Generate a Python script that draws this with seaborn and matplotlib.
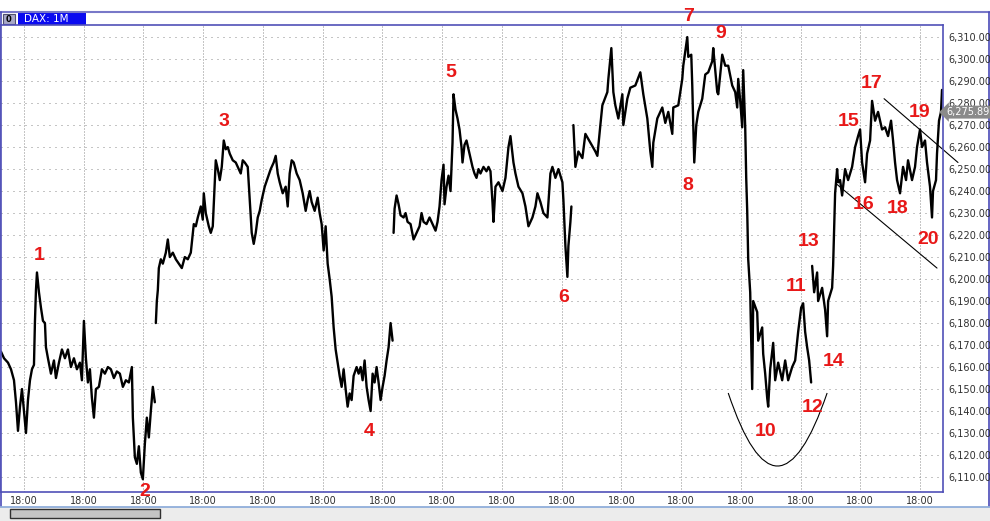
import pandas as pd
import matplotlib
matplotlib.use("Agg")
import matplotlib.pyplot as plt
from matplotlib.patches import Rectangle, PathPatch
from matplotlib.path import Path
import seaborn as sns

# intraday DAX 1-minute closes (bar position, price)
bars_1 = [0, 3, 7, 10, 13, 15, 17, 19, 21, 23, 25, 27, 29, 31, 33, 34, 35, 36, 38, 40,
          42, 44, 45, 47, 50, 53, 55, 58, 61, 64, 67, 70, 73, 76, 79, 81, 83, 85, 87, 89,
          91, 93, 95, 98, 101, 104, 107, 110, 113, 116, 119, 122, 125, 128, 131, 132, 134,
          136, 138, 140, 142, 144, 146, 148, 150, 152, 154]
prices_1 = [6167, 6164, 6162, 6159, 6154, 6144, 6131, 6142, 6150, 6140, 6130, 6145, 6154,
            6159, 6161, 6181, 6195, 6203, 6194, 6187, 6181, 6180, 6169, 6164, 6157, 6163,
            6155, 6162, 6168, 6164, 6168, 6160, 6164, 6159, 6162, 6154, 6181, 6164, 6153,
            6159, 6146, 6137, 6150, 6151, 6159, 6157, 6160, 6159, 6155, 6158, 6157, 6151,
            6154, 6153, 6160, 6137, 6119, 6116, 6124, 6112, 6109, 6125, 6137, 6128, 6140,
            6151, 6144]

bars_2 = [155, 156, 157, 158, 160, 162, 165, 167, 169, 172, 175, 178, 181, 184, 187, 190,
          193, 195, 197, 200, 202, 203, 205, 208, 210, 212, 214, 215, 217, 219, 221, 223,
          225, 227, 229, 232, 235, 238, 240, 242, 244, 247, 249, 251, 253, 255, 257, 259,
          261, 264, 267, 270, 273, 275, 277, 279, 282, 285, 287, 289, 291, 293, 296, 299,
          302, 305, 307, 309, 311, 314, 317, 319, 321, 323, 325, 327, 329, 331, 333, 335,
          337, 339, 341, 343, 345, 347, 349, 351, 353, 356, 358, 360, 362, 364, 366, 368,
          370, 372, 374, 376, 378, 380, 382, 384, 386, 388, 390, 392]
prices_2 = [6180, 6190, 6195, 6205, 6209, 6207, 6212, 6218, 6210, 6212, 6209, 6207, 6205,
            6210, 6209, 6212, 6225, 6224, 6228, 6233, 6227, 6239, 6230, 6224, 6221, 6224,
            6244, 6254, 6250, 6245, 6251, 6263, 6259, 6260, 6257, 6254, 6253, 6250, 6248,
            6254, 6253, 6251, 6236, 6221, 6216, 6221, 6228, 6231, 6236, 6242, 6246, 6250,
            6253, 6256, 6248, 6244, 6239, 6242, 6233, 6248, 6254, 6253, 6248, 6245, 6239,
            6231, 6236, 6240, 6235, 6231, 6237, 6230, 6225, 6213, 6224, 6207, 6200, 6192,
            6178, 6168, 6162, 6156, 6151, 6159, 6150, 6142, 6148, 6145, 6156, 6160, 6157,
            6160, 6154, 6163, 6151, 6145, 6140, 6157, 6153, 6160, 6153, 6145, 6151, 6156,
            6163, 6169, 6180, 6172]

bars_3 = [393, 394, 396, 398, 400, 403, 405, 407, 410, 413, 416, 419, 421, 423, 426, 429,
          432, 435, 437, 439, 441, 443, 444, 446, 448, 450, 452, 453, 455, 457, 459, 461,
          462, 464, 466, 468, 470, 472, 474, 476, 478, 480, 483, 486, 488, 490, 492, 493,
          495, 498, 502, 505, 508, 510, 513, 515, 518, 522, 525, 528, 532, 535, 537, 540,
          543, 547, 550, 552, 555, 558, 562, 563, 565, 567, 568, 570, 571]
prices_3 = [6221, 6232, 6238, 6234, 6229, 6228, 6230, 6226, 6225, 6218, 6221, 6224, 6230,
            6226, 6225, 6228, 6225, 6222, 6226, 6233, 6245, 6252, 6234, 6242, 6247, 6240,
            6262, 6284, 6277, 6273, 6268, 6260, 6253, 6261, 6263, 6259, 6255, 6251, 6248,
            6246, 6250, 6248, 6251, 6249, 6251, 6249, 6235, 6226, 6242, 6244, 6240, 6246,
            6260, 6265, 6253, 6248, 6242, 6239, 6233, 6224, 6228, 6233, 6239, 6235, 6230,
            6228, 6248, 6251, 6246, 6250, 6244, 6236, 6215, 6201, 6215, 6226, 6233]

bars_4 = [573, 575, 578, 582, 585, 590, 595, 597, 600, 602, 607, 608, 611, 613, 615, 618,
          622, 623, 627, 630, 635, 640, 643, 647, 650, 652, 653, 657, 662, 665, 668, 672,
          673, 678, 682, 683, 687, 688, 691, 692, 693, 694, 696, 698, 702, 705, 708, 712,
          713, 717, 718, 722, 725, 728, 732, 735, 737, 738, 740, 742, 743, 745, 746, 747,
          748, 750, 752, 753, 757, 758, 762, 763, 765, 767, 768, 770, 773, 775, 778, 782,
          785, 788, 792, 795, 798, 801, 803, 805, 807, 809, 811]
prices_4 = [6270, 6251, 6258, 6255, 6266, 6262, 6258, 6256, 6270, 6279, 6285, 6291, 6305,
            6285, 6279, 6273, 6284, 6270, 6282, 6287, 6288, 6294, 6284, 6273, 6258, 6251,
            6262, 6273, 6278, 6271, 6276, 6266, 6278, 6279, 6291, 6297, 6310, 6301, 6302,
            6288, 6270, 6253, 6270, 6276, 6282, 6293, 6294, 6299, 6305, 6285, 6284, 6302,
            6297, 6297, 6288, 6285, 6278, 6291, 6281, 6269, 6295, 6269, 6246, 6231, 6209,
            6194, 6150, 6190, 6185, 6172, 6178, 6166, 6157, 6146, 6142, 6159, 6171, 6154,
            6162, 6154, 6163, 6154, 6160, 6163, 6176, 6187, 6189, 6176, 6169, 6163, 6153]

bars_5 = [812, 814, 817, 818, 822, 825, 827, 828, 832, 833, 835, 837, 838, 840, 842, 845,
          848, 852, 855, 858, 860, 862, 865, 867, 870, 872, 875, 878, 882, 885, 888, 891,
          893, 895, 897, 900, 903, 906, 908, 912, 915, 917, 920, 922, 925, 927, 930, 932,
          933, 936, 937, 939, 941, 942]
prices_5 = [6206, 6194, 6203, 6190, 6196, 6186, 6174, 6190, 6196, 6206, 6239, 6250, 6244,
            6245, 6238, 6250, 6245, 6251, 6260, 6265, 6268, 6253, 6244, 6257, 6263, 6281,
            6272, 6276, 6268, 6269, 6265, 6272, 6263, 6253, 6245, 6239, 6251, 6245, 6254,
            6245, 6251, 6260, 6268, 6260, 6263, 6253, 6242, 6228, 6240, 6245, 6257, 6272,
            6276, 6286]

last_price = 6275.89

# wave count labels drawn on the chart
wave_labels = [str(i) for i in range(1, 21)]
wave_bars = [38, 144, 223, 369, 450, 563, 688, 688, 721, 765,
             796, 812, 808, 834, 849, 864, 872, 898, 920, 928]
wave_prices = [6210.6, 6103.6, 6271.8, 6130.5, 6294.1, 6191.4, 6319.5, 6242.7, 6311.8, 6130.5,
               6196.4, 6141.4, 6217.3, 6162.3, 6271.8, 6234.1, 6289.1, 6232.3, 6275.9, 6218.2]

# hand-drawn trend lines and the rounded bottom under wave 10
upper_line_bars = [884, 958]
upper_line_prices = [6282, 6253]
lower_line_bars = [837, 937]
lower_line_prices = [6243, 6205]
bowl_bars = [728, 777, 827]
bowl_prices = [6148.2, 6081.8, 6148.2]

session_ticks = [23 + 59.8 * k for k in range(16)]
session_labels = ["18:00"] * 16
price_ticks = list(range(6110, 6320, 10))

frames = []
for i, (b, p) in enumerate([(bars_1, prices_1), (bars_2, prices_2), (bars_3, prices_3),
                            (bars_4, prices_4), (bars_5, prices_5)]):
    frames.append(pd.DataFrame({"bar": b, "price": p, "segment": i}))
df = pd.concat(frames, ignore_index=True)

sns.set_style("white")
plt.rcParams["font.family"] = ["DejaVu Sans"]

W, H = 990, 521
fig = plt.figure(figsize=(W / 100, H / 100), dpi=100)

# window chrome in pixel coordinates
bg = fig.add_axes([0, 0, 1, 1])
bg.set_xlim(0, W)
bg.set_ylim(H, 0)
bg.axis("off")
edge = "#7878c8"
bg.plot([0, W], [12, 12], color=edge, lw=1.5)
bg.plot([0.5, 0.5], [12, 506], color="#4a4ab8", lw=1.2)
bg.plot([988.5, 988.5], [12, 506], color="#4a4ab8", lw=1.2)
bg.add_patch(Rectangle((18, 12), 68, 13, fc="#0a0af0", ec="none"))
bg.text(24, 18.8, "DAX: 1M", color="white", fontsize=7.5, va="center", ha="left")
bg.add_patch(Rectangle((3, 14), 12, 10, fc="#a8a8c8", ec="#505070", lw=0.8))
bg.text(9, 19, "0", color="black", fontsize=6, fontweight="bold", va="center", ha="center")
bg.add_patch(Rectangle((0, 507), W, 14, fc="#ececec", ec="none"))
bg.plot([0, W], [506.5, 506.5], color="#88a8d8", lw=1.2)
bg.add_patch(Rectangle((10, 509), 150, 9, fc="#c4c4c4", ec="#303030", lw=1))

ax = fig.add_axes([1 / W, 29 / H, 942 / W, 467 / H])
ax.set_facecolor("white")

sns.lineplot(data=df, x="bar", y="price", units="segment", estimator=None, sort=False,
             color="black", linewidth=1.7, ax=ax, legend=False)

ax.set_xlim(0, 943)
ax.set_ylim(6103.2, 6315.5)
ax.set_xlabel("")
ax.set_ylabel("")

ax.set_xticks(session_ticks)
ax.set_xticklabels(session_labels)
ax.set_yticks(price_ticks)
ax.set_yticklabels([f"{v:,.2f}" for v in price_ticks])
ax.yaxis.tick_right()
ax.tick_params(axis="both", length=0, labelsize=7, colors="#303030")
ax.tick_params(axis="x", pad=3)
ax.tick_params(axis="y", pad=4)

ax.grid(False)
for t in session_ticks:
    ax.axvline(t, color="#8c8c8c", lw=0.72, ls=(0, (1, 2)), zorder=0)
for v in price_ticks:
    ax.axhline(v, color="#8c8c8c", lw=0.72, ls=(0, (1, 5)), zorder=0)

for side in ["top", "bottom", "left", "right"]:
    ax.spines[side].set_visible(True)
    ax.spines[side].set_color("#5050b8")
    ax.spines[side].set_linewidth(1.2)

# trend lines and bowl
ax.plot(upper_line_bars, upper_line_prices, color="black", lw=0.8, clip_on=False)
ax.plot(lower_line_bars, lower_line_prices, color="black", lw=0.8, clip_on=False)
bowl = Path(list(zip(bowl_bars, bowl_prices)), [Path.MOVETO, Path.CURVE3, Path.CURVE3])
ax.add_patch(PathPatch(bowl, fc="none", ec="black", lw=0.8))

for lab, b, p in zip(wave_labels, wave_bars, wave_prices):
    ax.text(b, p, lab, color="#e81818", fontsize=14, fontweight="bold",
            family=["Liberation Sans", "DejaVu Sans"], ha="center", va="center", clip_on=False)

# last price tag
ax.text(946, last_price, f"{last_price:,.2f}", color="white", fontsize=7, va="center",
        ha="left", clip_on=False,
        bbox=dict(boxstyle="larrow,pad=0.15", fc="#8a8a8a", ec="none"))

fig.savefig("out.png", dpi=100)
